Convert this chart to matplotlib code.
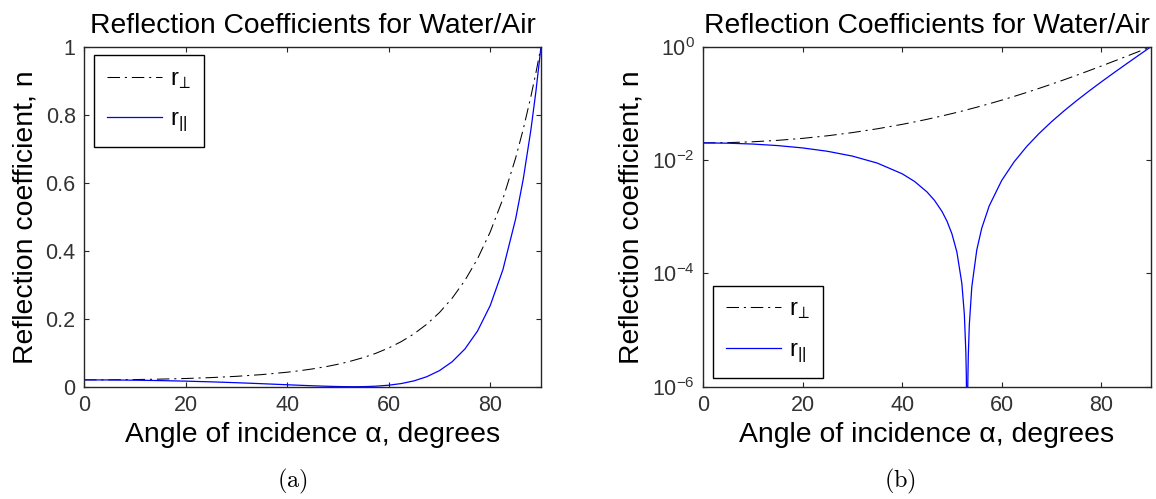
import matplotlib
matplotlib.use("Agg")
import matplotlib.pyplot as plt
from matplotlib.ticker import FixedLocator, FixedFormatter

plt.rcParams['font.family'] = ['Liberation Sans', 'DejaVu Sans']
plt.rcParams['mathtext.fontset'] = 'custom'
plt.rcParams['mathtext.rm'] = 'Liberation Sans'
plt.rcParams['mathtext.it'] = 'Liberation Sans:italic'
plt.rcParams['mathtext.sf'] = 'DejaVu Sans'
plt.rcParams['lines.scale_dashes'] = False

# ---- data ----
angle_perp = [0, 5, 10, 15, 20, 25, 30, 35, 40, 42.5, 45, 48, 50, 52, 55, 57.5, 60,
              62.5, 65, 67.5, 70, 72.5, 75, 77.5, 80, 82.5, 85, 86.5, 88, 89, 90]
r_perp = [0.02006, 0.02029, 0.02100, 0.02225, 0.02412, 0.02679, 0.03049, 0.03557,
          0.04258, 0.04704, 0.05231, 0.05994, 0.06600, 0.07298, 0.08555, 0.09838,
          0.11390, 0.13273, 0.15566, 0.18368, 0.21803, 0.26024, 0.31219, 0.37622,
          0.45519, 0.55253, 0.67238, 0.75710, 0.85286, 0.92348, 1.0]

angle_par = [0, 5, 10, 15, 20, 25, 30, 35, 40, 42.5, 45, 46.5, 48, 49, 50, 51, 52,
             52.5, 52.8, 52.9, 53.0, 53.06, 53.1, 53.2, 53.3, 53.5, 54, 55, 56, 57.5,
             60, 62.5, 65, 67.5, 70, 72.5, 75, 77.5, 80, 82.5, 85, 86.5, 88, 89, 90]
r_par = [0.02006, 0.01983, 0.01914, 0.01798, 0.01636, 0.01427, 0.01174, 0.00884,
         0.00573, 0.004188, 0.002736, 0.001945, 0.001243, 8.399e-4, 5.01e-4,
         2.388e-4, 6.654e-5, 1.908e-5, 4.199e-6, 1.60e-6, 2.33e-7, 1e-10, 9.4e-8,
         1.20e-6, 3.60e-6, 1.228e-5, 5.770e-5, 2.592e-4, 6.278e-4, 0.001552,
         0.004353, 0.009288, 0.017219, 0.029336, 0.047281, 0.073335, 0.110665,
         0.163696, 0.238642, 0.344271, 0.493074, 0.610227, 0.754388, 0.868617, 1.0]

x_ticks = [0, 20, 40, 60, 80]
lin_ticks = [0, 0.2, 0.4, 0.6, 0.8, 1]
lin_labels = ['0', '0.2', '0.4', '0.6', '0.8', '1']
log_ticks = [1e-6, 1e-4, 1e-2, 1]
log_labels = [r'$\mathregular{10^{-6}}$', r'$\mathregular{10^{-4}}$',
              r'$\mathregular{10^{-2}}$', r'$\mathregular{10^{0}}$']

title = 'Reflection Coefficients for Water/Air'
xlabel = 'Angle of incidence α, degrees'
ylabel = 'Reflection coefficient, n'
leg_labels = [r'$\mathregular{r}_{\!\mathsf{\perp}}$', r'$\mathregular{r}_{\mathregular{||}}$']
captions = [r'$\mathrm{(a)}$', r'$\mathrm{(b)}$']

W, H = 1156, 499
fig = plt.figure(figsize=(W / 100, H / 100), dpi=100)

axL = fig.add_axes([84 / W, 1 - 386.7 / H, 457 / W, 340 / H])
axR = fig.add_axes([703 / W, 1 - 386.7 / H, 448 / W, 340 / H])

spine_col = '#262626'
dash = (0, (9, 3.5, 1.5, 3.5))

for ax in (axL, axR):
    ax.plot(angle_perp, r_perp, color='black', lw=0.75, linestyle=dash, label=leg_labels[0])
    ax.plot(angle_par, r_par, color='#0000FF', lw=0.9, label=leg_labels[1])
    ax.set_xlim(0, 90)
    ax.xaxis.set_major_locator(FixedLocator(x_ticks))
    ax.tick_params(direction='in', length=3.8, width=0.8, top=True, right=True,
                   labelsize=15.5, pad=6, colors=spine_col, labelcolor='#333333')
    ax.tick_params(which='minor', length=0)
    for s in ax.spines.values():
        s.set_linewidth(1.0)
        s.set_color(spine_col)
    ax.set_title(title, fontsize=20.3, pad=10)
    ax.set_xlabel(xlabel, fontsize=20.4, labelpad=4)
    ax.set_ylabel(ylabel, fontsize=20.4, labelpad=5)

axL.set_ylim(0, 1)
axL.yaxis.set_major_locator(FixedLocator(lin_ticks))
axL.yaxis.set_major_formatter(FixedFormatter(lin_labels))

axR.set_yscale('log')
axR.set_ylim(1e-6, 1)
axR.yaxis.set_major_locator(FixedLocator(log_ticks))
axR.yaxis.set_major_formatter(FixedFormatter(log_labels))
axR.yaxis.set_minor_locator(FixedLocator([]))

leg_kw = dict(fontsize=17, frameon=True, fancybox=False, shadow=False,
              borderaxespad=0, handlelength=2.35, handletextpad=0.3,
              labelspacing=0.75, borderpad=0.55)
legL = axL.legend(loc='upper left', bbox_to_anchor=(10 / 457, (386.7 - 55) / 340), **leg_kw)
legR = axR.legend(loc='lower left', bbox_to_anchor=(10 / 448, 8.7 / 340), **leg_kw)
for lg in (legL, legR):
    fr = lg.get_frame()
    fr.set_edgecolor('black')
    fr.set_linewidth(1.0)
    fr.set_alpha(1)

fig.text(292 / W, 1 - 481 / H, captions[0], ha='center', va='center', fontsize=17.5,
         math_fontfamily='cm')
fig.text(900 / W, 1 - 481 / H, captions[1], ha='center', va='center', fontsize=17.5,
         math_fontfamily='cm')

fig.savefig('out.png', dpi=100)
